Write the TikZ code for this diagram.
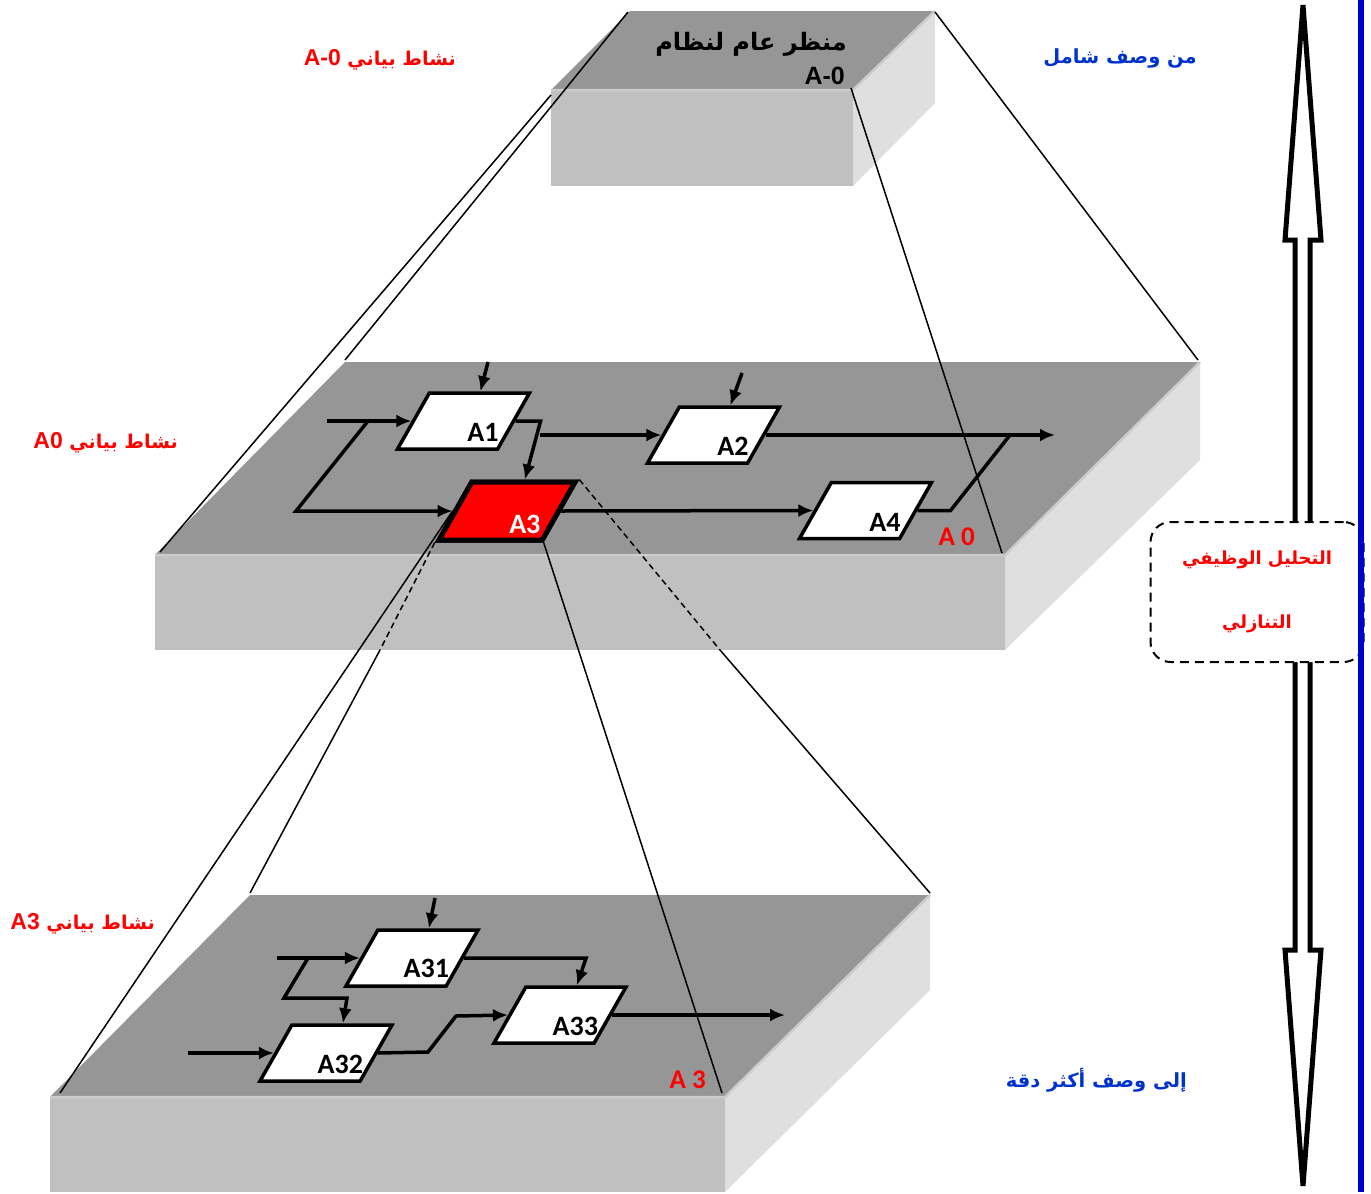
\documentclass[tikz,border=0pt]{standalone}
\usepackage{fontspec}
\setmainfont{Liberation Sans}
\newfontfamily\arabicfont[Script=Arabic]{DejaVu Sans}
\newfontfamily\calfont{Carlito}
\usetikzlibrary{arrows.meta,shapes.geometric}
\TeXXeTstate=1
\newcommand\latinid{\rmfamily\bfseries\fontsize{23}{26}\selectfont}

\definecolor{topgray}{RGB}{150,150,150}
\definecolor{frontgray}{RGB}{192,192,192}
\definecolor{sidegray}{RGB}{223,223,223}
\definecolor{edgegray}{RGB}{204,204,204}
\definecolor{descblue}{RGB}{0,51,204}
\definecolor{railblue}{RGB}{0,0,204}

\begin{document}
\begin{tikzpicture}[x=1pt,y=-1pt,
  topface/.style={fill=topgray},
  frontface/.style={fill=frontgray},
  sideface/.style={fill=sidegray},
  bevel/.style={edgegray,line width=2.5pt},
  proj/.style={line width=1.5pt},
  actbox/.style={draw,line width=3.5pt,fill=white,trapezium,
    trapezium left angle=65,trapezium right angle=115,trapezium stretches=true,
    minimum width=132pt,minimum height=56pt,inner sep=2pt},
  boxname/.style={font=\calfont\bfseries\fontsize{28}{30}\selectfont,inner sep=0pt,anchor=base east},
  flow/.style={line width=3.5pt,-{Latex[length=15pt,width=13pt]}},
  wire/.style={line width=3.5pt},
  actlbl/.style={red,font=\arabicfont\bfseries\fontsize{19}{22}\selectfont,inner sep=0pt,anchor=base east},
  desclbl/.style={descblue,font=\arabicfont\bfseries\fontsize{19.5}{23}\selectfont,inner sep=0pt,anchor=base east},
  levellbl/.style={red,font=\calfont\bfseries\fontsize{27}{30}\selectfont,inner sep=0pt,anchor=base east},
  notebox/.style={draw,dash pattern=on 9pt off 6pt,line width=2pt,rounded corners=20pt,fill=white,
    minimum width=213pt,minimum height=140pt,align=center,text=red,
    font=\arabicfont\bfseries\fontsize{18}{64}\selectfont}
]
\useasboundingbox (0,0) rectangle (1371,1194);

% verkhnii blok A-0
\fill[topface] (630,11) -- (935,11) -- (853,90) -- (551,90) -- cycle;
\fill[frontface] (551,90) rectangle (853,186);
\fill[sideface] (853,90) -- (935,11) -- (935,103) -- (853,186) -- cycle;
\draw[bevel] (551,90) -- (853,90) -- (935,11);

% srednii blok A0
\fill[topface] (345,362) -- (1200,362) -- (1005,555) -- (155,555) -- cycle;
\fill[frontface] (155,555) rectangle (1005,650);
\fill[sideface] (1005,555) -- (1200,362) -- (1200,460) -- (1005,650) -- cycle;
\draw[bevel] (155,555) -- (1005,555) -- (1200,362);

% nizhnii blok A3
\fill[topface] (250,895) -- (930,895) -- (725,1097) -- (50,1097) -- cycle;
\fill[frontface] (50,1097) rectangle (725,1192);
\fill[sideface] (725,1097) -- (930,895) -- (930,990) -- (725,1192) -- cycle;
\draw[bevel] (50,1097) -- (725,1097) -- (930,895);

% linii proektsii sverkhu
\draw[proj] (628,12) -- (345,360);
\draw[proj] (551,95) -- (160,552);
\draw[proj] (935,12) -- (1198,360);
\draw[proj] (851,88) -- (1002,553);

% bloki A0
\node[actbox] (A1) at (463.5,421) {};
\node[actbox] (A2) at (713.5,435) {};
\node[actbox] (A4) at (865.5,510.5) {};
\node[actbox,fill=red,line width=5pt,minimum width=136pt,minimum height=58pt] (A3) at (507,511) {};

% linii proektsii vniz
\draw[proj] (A3.left side) -- (60,1093);
\draw[proj,dash pattern=on 6pt off 4pt] (A3.bottom left corner) -- (380,650);
\draw[proj] (380,650) -- (250,893);
\draw[proj,dash pattern=on 6pt off 4pt] (A3.top right corner) -- (720,650);
\draw[proj] (720,650) -- (930,893);
\draw[proj] (A3.bottom right corner) -- (722,1093);
\node[actbox,fill=red,line width=5pt,minimum width=136pt,minimum height=58pt] (A3) at (507,511) {};

\coordinate (in0) at (327,421);
\coordinate (fork0) at (368,421);
\coordinate (knee0) at (296,511);
\coordinate (ctl1) at (488,362);
\coordinate (ctl2) at (742,373);
\coordinate (tap1) at (540,435);
\coordinate (join0) at (1010,435);
\coordinate (out0) at (1055,435);

\draw[flow] (in0) -- (A1.left side);
\draw[flow] (fork0) -- (knee0) -- (A3.left side);
\draw[flow] (ctl1) -- (A1.top side);
\draw[flow] (ctl2) -- (A2.top side);
\draw[flow] (A1.right side) -- ++(25,0) -- (A3.top side);
\draw[flow] (tap1) -- (A2.left side);
\draw[flow] (A2.right side) -- (out0);
\draw[flow] (A3.right side) -- (A4.left side);
\draw[wire] (A4.right side) -- ++(33,0) -- (join0);

\node[boxname] (A1n) at ([shift={(0,-9)}]A1.bottom right corner) {A1};
\node[boxname] (A2n) at ([shift={(0,-9)}]A2.bottom right corner) {A2};
\node[boxname,white] (A3n) at ([shift={(-3,-9)}]A3.bottom right corner) {A3};
\node[boxname] (A4n) at ([shift={(0,-9)}]A4.bottom right corner) {A4};

% bloki A3
\node[actbox] (A31) at (412,958) {};
\node[actbox] (A32) at (326,1053) {};
\node[actbox] (A33) at (560,1015) {};

\coordinate (ctl31) at (435,898);
\coordinate (in31) at (277,958);
\coordinate (fork31) at (308,958);
\coordinate (in32) at (188,1053);
\coordinate (out3) at (785,1015);

\draw[flow] (ctl31) -- (A31.top side);
\draw[flow] (in31) -- (A31.left side);
\draw[flow] (fork31) -- (284,998) -- (347,998) -- (A32.top side);
\draw[flow] (in32) -- (A32.left side);
\draw[flow] (A31.right side) -- ++(122,0) -- (A33.top side);
\draw[flow] (A32.right side) -- (428,1052) -- (456,1016) -- (A33.left side);
\draw[flow] (A33.right side) -- (out3);

\node[boxname] (A31n) at ([shift={(2,-10)}]A31.bottom right corner) {A31};
\node[boxname] (A32n) at ([shift={(2,-9)}]A32.bottom right corner) {A32};
\node[boxname] (A33n) at ([shift={(3,-9)}]A33.bottom right corner) {A33};

% nadpisi
\node[inner sep=0pt,anchor=base east,font=\arabicfont\bfseries\fontsize{24}{27}\selectfont] (title)
  at (847,50) {\beginR منظر عام لنظام\endR};
\node[inner sep=0pt,anchor=base east,font=\bfseries\fontsize{25}{28}\selectfont] (titleid)
  at (845,84) {A-0};
\node[levellbl] (lvl0) at (975,545) {A 0};
\node[levellbl] (lvl3) at (706,1088) {A 3};

\node[actlbl] (act0) at (456,65) {\beginR نشاط بياني \beginL{\latinid A-0}\endL\endR};
\node[actlbl] (actA0) at (178,448) {\beginR نشاط بياني \beginL{\latinid A0}\endL\endR};
\node[actlbl] (actA3) at (155,929) {\beginR نشاط بياني \beginL{\latinid A3}\endL\endR};
\node[desclbl] (general) at (1197,63) {\beginR من وصف شامل\endR};
\node[desclbl] (precise) at (1187,1087) {\beginR إلى وصف أكثر دقة\endR};

% strelka
\draw[line width=5pt] (1303,5) -- (1321,240) -- (1310,240) -- (1310,950) -- (1321,950)
  -- (1303,1186) -- (1285,950) -- (1295,950) -- (1295,240) -- (1285,240) -- cycle;
\node[notebox] (note) at (1257,592) {\beginR التحليل الوظيفي\endR\\\beginR التنازلي\endR};
\draw[railblue,line width=6pt] (1361,0) -- (1361,1192);
\end{tikzpicture}
\end{document}
